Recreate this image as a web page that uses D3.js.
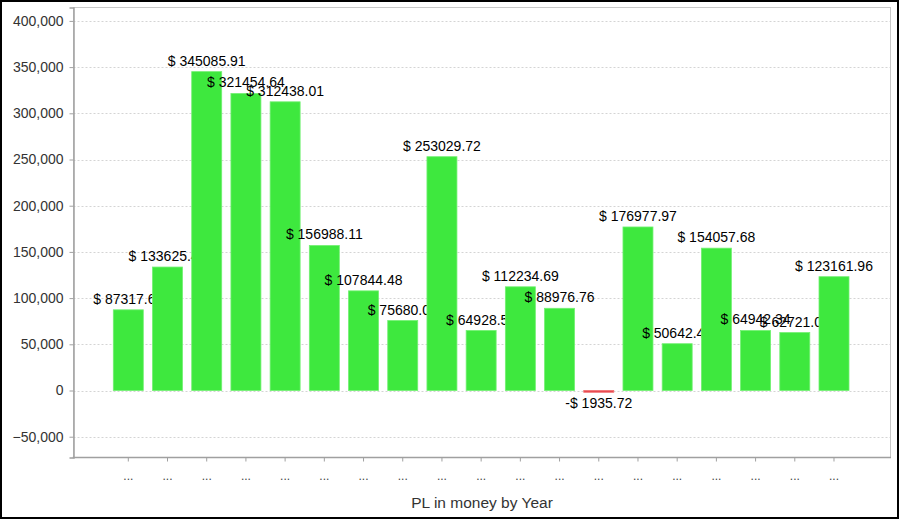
<!DOCTYPE html>
<html>
<head>
<meta charset="utf-8">
<script src="https://cdn.jsdelivr.net/npm/d3@7"></script>
<style>
  html, body { margin: 0; padding: 0; background: #fff; }
  svg { display: block; }
</style>
</head>
<body>
<svg id="chart" width="900" height="519"></svg>
<script>
// ---- data ----
const categories = ["...", "...", "...", "...", "...", "...", "...", "...", "...", "...",
                    "...", "...", "...", "...", "...", "...", "...", "...", "..."];
const values = [87317.60, 133625.40, 345085.91, 321454.64, 312438.01, 156988.11, 107844.48,
                75680.00, 253029.72, 64928.50, 112234.69, 88976.76, -1935.72, 176977.97,
                50642.40, 154057.68, 64942.34, 62721.00, 123161.96];
const yTicks = [-50000, 0, 50000, 100000, 150000, 200000, 250000, 300000, 350000, 400000];
const axisTitle = "PL in money by Year";

// ---- layout ----
const svg = d3.select("#chart");
const W = 900, H = 519;
const plot = { left: 73.5, right: 890.5, top: 7.5, bottom: 457.5 };
const font = "'Liberation Sans', Arial, sans-serif";

svg.append("rect").attr("x", 1).attr("y", 1).attr("width", W - 3).attr("height", H - 2)
  .attr("fill", "#fff").attr("stroke", "#000").attr("stroke-width", 2);

const idx = values.map((d, i) => i);
const x = d3.scaleBand().domain(idx).range([108.7, 853.6]).paddingInner(0.235).paddingOuter(0.1175);
const y = d3.scaleLinear().domain([-72500, 414500]).range([plot.bottom, plot.top]);

// grid
svg.append("g").selectAll("line").data(yTicks).join("line")
  .attr("x1", plot.left).attr("x2", plot.right)
  .attr("y1", d => Math.round(y(d)) + 0.5).attr("y2", d => Math.round(y(d)) + 0.5)
  .attr("stroke", "#d4d4d4").attr("stroke-width", 1).attr("stroke-dasharray", "2,2");

// plot border (top/right light)
svg.append("rect").attr("x", plot.left).attr("y", plot.top)
  .attr("width", plot.right - plot.left).attr("height", plot.bottom - plot.top)
  .attr("fill", "none").attr("stroke", "#c8c8c8").attr("stroke-width", 1);

// bars + labels interleaved
const groups = svg.append("g").selectAll("g").data(values).join("g");
groups.append("rect")
  .attr("x", (d, i) => x(i))
  .attr("width", x.bandwidth())
  .attr("y", d => y(Math.max(0, d)))
  .attr("height", d => Math.max(1.5, Math.abs(y(d) - y(0))))
  .attr("fill", d => d >= 0 ? "#3ee83e" : "#e8474f")
  .attr("stroke", d => d >= 0 ? "#72f072" : "#f07070")
  .attr("stroke-width", 0.8);
groups.append("text")
  .attr("x", (d, i) => x(i) + x.bandwidth() / 2)
  .attr("y", d => d >= 0 ? y(d) - 6 : y(d) + 16)
  .attr("text-anchor", "middle")
  .attr("font-family", font).attr("font-size", "14px").attr("fill", "#000")
  .text(d => (d < 0 ? "-$ " : "$ ") + Math.abs(d).toFixed(2));

// y axis
const yAxis = d3.axisLeft(y).tickValues(yTicks).tickSize(4).tickPadding(6)
  .tickFormat(d3.format(","));
const gy = svg.append("g").attr("transform", `translate(${plot.left},0)`).call(yAxis);
gy.select(".domain").attr("stroke", "#a0a0a0").attr("stroke-width", 1.5);
gy.selectAll(".tick line").attr("stroke", "#a0a0a0");
gy.selectAll(".tick text").attr("font-family", font).attr("font-size", "14px").attr("fill", "#333");

// x axis
const xAxis = d3.axisBottom(x).tickSize(4).tickPadding(10).tickFormat(i => categories[i]);
const gx = svg.append("g").attr("transform", `translate(0,${plot.bottom})`).call(xAxis);
gx.select(".domain").remove();
gx.append("line").attr("x1", plot.left - 0.75).attr("x2", plot.right + 0.5).attr("y1", 0).attr("y2", 0)
  .attr("stroke", "#a0a0a0").attr("stroke-width", 1.5);
gx.selectAll(".tick line").attr("stroke", "#a0a0a0");
gx.selectAll(".tick text").attr("font-family", font).attr("font-size", "12px").attr("fill", "#444");

svg.append("text").attr("x", (plot.left + plot.right) / 2).attr("y", 508)
  .attr("text-anchor", "middle").attr("font-family", font).attr("font-size", "15.5px").attr("fill", "#333")
  .text(axisTitle);
</script>
</body>
</html>
